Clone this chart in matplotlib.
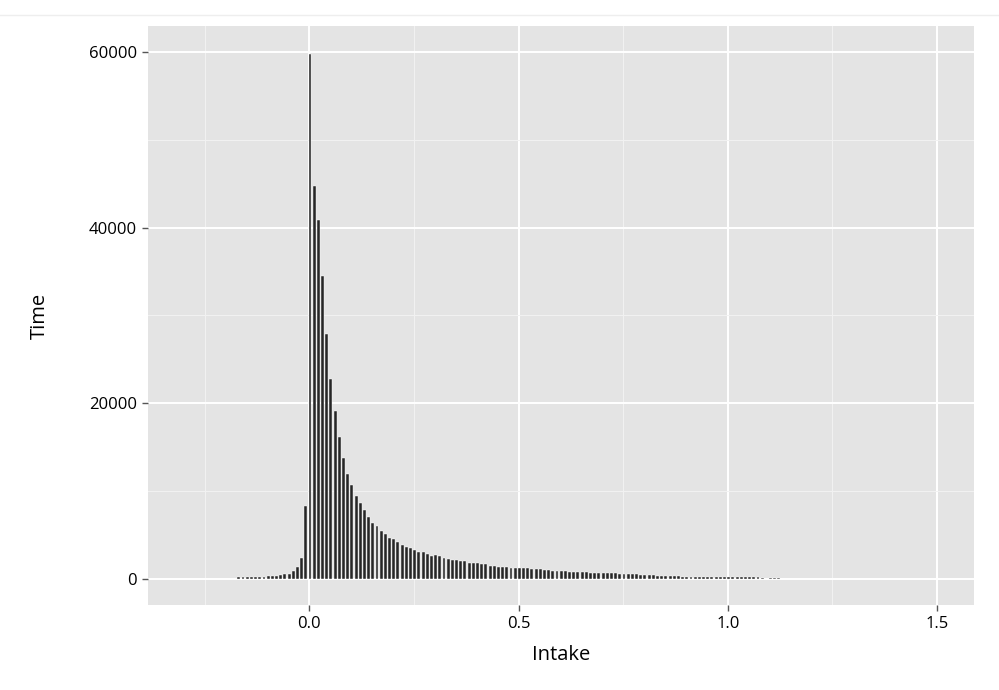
#!/usr/bin/env python3

"""Histogram of intake values against time, drawn in a ggplot-like style."""

import matplotlib

matplotlib.use("Agg")

import matplotlib.pyplot as plt
from matplotlib.lines import Line2D

# bin centres: -0.17 .. 1.12 in steps of 0.01 (stored as integer hundredths)
bin_hundredths = list(range(-17, 113))

# counts, one per bin
negative_counts = [180, 190, 200, 200, 210, 220, 260, 320, 330, 380, 480,
                   560, 620, 900, 1350, 2400, 8300]
positive_counts = [
    59800, 44750, 40900, 34500, 27900, 22800, 19100, 16200, 13800, 11900,
    10700, 9500, 8600, 7900, 7100, 6400, 6000, 5500, 5100, 4700,
    4500, 4200, 3900, 3700, 3500, 3350, 3080, 3080, 2890, 2660,
    2780, 2590, 2400, 2280, 2130, 2130, 2020, 2020, 1830, 1860,
    1830, 1750, 1670, 1520, 1520, 1400, 1370, 1370, 1290, 1290,
    1290, 1270, 1220, 1150, 1120, 1100, 1000, 980, 920, 910,
    900, 870, 800, 800, 800, 790, 790, 690, 680, 680,
    680, 670, 660, 650, 620, 580, 540, 530, 520, 490,
    490, 480, 460, 350, 340, 340, 330, 330, 320, 240,
    230, 230, 220, 230, 220, 210, 220, 210, 200, 200,
    200, 190, 190, 190, 190, 180, 180, 180, 170, 0,
    170, 170, 170,
]
counts = negative_counts + positive_counts

x_ticks = [0.0, 0.5, 1.0, 1.5]
x_tick_labels = ["0.0", "0.5", "1.0", "1.5"]
y_ticks = [0, 20000, 40000, 60000]
y_tick_labels = ["0", "20000", "40000", "60000"]

plt.rcParams["font.family"] = ["Open Sans", "DejaVu Sans"]

fig = plt.figure(figsize=(9.99, 6.90), dpi=100)
ax = fig.add_axes([148 / 999, 1 - 605 / 690, 826 / 999, 579 / 690])

ax.set_facecolor("#e4e4e4")
for spine in ax.spines.values():
    spine.set_visible(False)

centres = [h / 100 + 0.002 for h in bin_hundredths]
ax.bar(centres, counts, width=0.007, color="#262626",
       edgecolor="white", linewidth=0.3, zorder=3)

ax.set_xlim(-0.385, 1.588)
ax.set_ylim(-2960, 62960)

ax.set_xticks(x_ticks)
ax.set_xticklabels(x_tick_labels)
ax.set_xticks([-0.25, 0.25, 0.75, 1.25], minor=True)
ax.set_yticks(y_ticks)
ax.set_yticklabels(y_tick_labels)
ax.set_yticks([10000, 30000, 50000], minor=True)

ax.grid(True, which="major", color="white", linewidth=1.4, zorder=1)
ax.grid(True, which="minor", color="#f2f2f2", linewidth=0.7, zorder=1)
ax.set_axisbelow(True)

ax.tick_params(which="major", length=4, width=1, color="#555555",
               labelsize=12, labelcolor="black", pad=4)
ax.tick_params(which="minor", length=0)

ax.set_xlabel("Intake", fontsize=14.5, labelpad=9)
ax.set_ylabel("Time", fontsize=14.5, labelpad=28)

# faint rule across the top of the image
fig.add_artist(Line2D([0, 1], [1 - 15 / 690] * 2, color="#eeeeee",
                      linewidth=1, transform=fig.transFigure))

fig.savefig("out.png", dpi=100)
plt.close(fig)
